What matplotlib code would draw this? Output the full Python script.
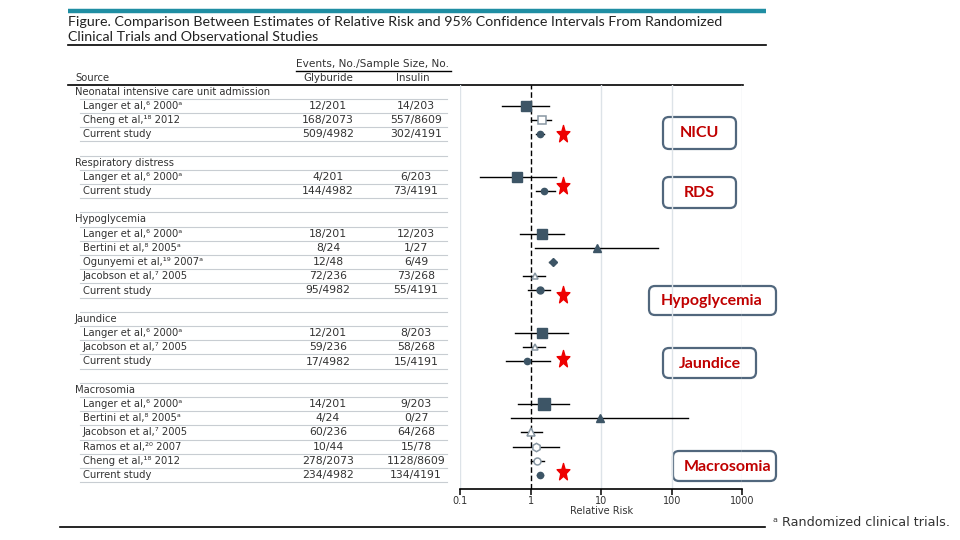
import matplotlib
matplotlib.use("Agg")
import matplotlib.pyplot as plt
from matplotlib.patches import FancyBboxPatch
from matplotlib.path import Path
import numpy as np

# ---------------- data ----------------
groups = ["Neonatal intensive care unit admission", "Respiratory distress",
          "Hypoglycemia", "Jaundice", "Macrosomia"]
group_sizes = [3, 2, 5, 3, 6]

study_labels = [
    "Langer et al,\u2076 2000\u1d43", "Cheng et al,\u00b9\u2078 2012", "Current study",
    "Langer et al,\u2076 2000\u1d43", "Current study",
    "Langer et al,\u2076 2000\u1d43", "Bertini et al,\u2078 2005\u1d43",
    "Ogunyemi et al,\u00b9\u2079 2007\u1d43", "Jacobson et al,\u2077 2005", "Current study",
    "Langer et al,\u2076 2000\u1d43", "Jacobson et al,\u2077 2005", "Current study",
    "Langer et al,\u2076 2000\u1d43", "Bertini et al,\u2078 2005\u1d43",
    "Jacobson et al,\u2077 2005", "Ramos et al,\u00b2\u2070 2007",
    "Cheng et al,\u00b9\u2078 2012", "Current study",
]
glyburide = ["12/201", "168/2073", "509/4982",
             "4/201", "144/4982",
             "18/201", "8/24", "12/48", "72/236", "95/4982",
             "12/201", "59/236", "17/4982",
             "14/201", "4/24", "60/236", "10/44", "278/2073", "234/4982"]
insulin = ["14/203", "557/8609", "302/4191",
           "6/203", "73/4191",
           "12/203", "1/27", "6/49", "73/268", "55/4191",
           "8/203", "58/268", "15/4191",
           "9/203", "0/27", "64/268", "15/78", "1128/8609", "134/4191"]
rr = [0.85, 1.43, 1.38,
      0.65, 1.57,
      1.46, 8.7, 2.05, 1.15, 1.35,
      1.46, 1.15, 0.90,
      1.54, 9.7, 1.03, 1.18, 1.24, 1.38]
ci_low = [0.40, 1.00, 1.18,
          0.19, 1.18,
          0.70, 1.15, 1.85, 0.78, 0.93,
          0.60, 0.78, 0.45,
          0.66, 0.53, 0.74, 0.57, 1.00, 1.25]
ci_high = [1.81, 1.97, 1.54,
           2.32, 2.20,
           3.00, 64.0, 2.30, 1.60, 1.90,
           3.36, 1.60, 1.90,
           3.50, 172.0, 1.43, 2.50, 1.57, 1.52]
x_ticks = [0.1, 1, 10, 100, 1000]
x_tick_labels = ["0.1", "1", "10", "100", "1000"]
outcome_tags = ["NICU", "RDS", "Hypoglycemia", "Jaundice", "Macrosomia"]

# ---------------- styles ----------------
DARK = "#3d5566"
OPEN_EDGE = "#8796a2"
# (marker, filled, size)
marker_styles = [
    ("s", True, 7), ("s", False, 5.5), ("o", True, 4.5),
    ("s", True, 7), ("o", True, 4.5),
    ("s", True, 7.5), ("^", True, 5.5), ("D", True, 4), ("^", False, 5), ("o", True, 5),
    ("s", True, 7.5), ("^", False, 5), ("o", True, 4.5),
    ("s", True, 8), ("^", True, 6), ("^", False, 6), ("h", False, 6), ("o", False, 5), ("o", True, 4.5),
]

# rows layout (row index in axis units)
rows, header_rows = [], []
r = 0
for g, n in zip(groups, group_sizes):
    header_rows.append(r)
    rows.extend(range(r + 1, r + 1 + n))
    r += n + 2

W, H = 960, 540
fig = plt.figure(figsize=(9.6, 5.4), dpi=100)

# overlay axes in pixel coordinates
ov = fig.add_axes([0, 0, 1, 1])
ov.set_xlim(0, W)
ov.set_ylim(H, 0)
ov.axis("off")

# forest axes
ax_left, ax_right, ax_top, ax_bot = 460, 742.3, 85, 489.3
ax = fig.add_axes([ax_left / W, 1 - ax_bot / H, (ax_right - ax_left) / W, (ax_bot - ax_top) / H])
ax.set_xscale("log")
ax.set_xlim(0.1, 1000)
row0_px, row_dy = 91.7, 14.2
ax.set_ylim((ax_bot - row0_px) / row_dy, (ax_top - row0_px) / row_dy)
ax.patch.set_alpha(0)
for s in ["top", "right", "left"]:
    ax.spines[s].set_visible(False)
ax.spines["bottom"].set_linewidth(1.2)
ax.set_yticks([])
ax.set_xticks(x_ticks)
ax.set_xticklabels(x_tick_labels, fontsize=7, color="#333333")
ax.xaxis.set_minor_locator(matplotlib.ticker.NullLocator())
ax.tick_params(axis="x", length=4, width=1.1, pad=1)
ax.set_xlabel("Relative Risk", fontsize=7, color="#333333", labelpad=0)
for t in x_ticks:
    if t != 1:
        ax.axvline(t, color="#dde3e8", lw=1, zorder=0)
ax.axvline(1, color="black", lw=1, ls=(0, (4, 2)), zorder=1)

for i, y in enumerate(rows):
    ax.plot([ci_low[i], ci_high[i]], [y, y], color="black", lw=1, zorder=2)
    m, filled, ms = marker_styles[i]
    if filled:
        ax.plot(rr[i], y, marker=m, ms=ms, color=DARK, mec=DARK, zorder=3, ls="none")
    else:
        ax.plot(rr[i], y, marker=m, ms=ms, mfc="white", mec=OPEN_EDGE, mew=1.1, zorder=3, ls="none")

# stars next to current-study rows
star = [(np.sin(2 * np.pi * k / 10) * (1 if k % 2 == 0 else 0.42),
         np.cos(2 * np.pi * k / 10) * (1 if k % 2 == 0 else 0.42) * 1.35) for k in range(10)]
star_path = Path(star + [star[0]], [Path.MOVETO] + [Path.LINETO] * 9 + [Path.CLOSEPOLY])
current_rows = [rows[i] for i, lab in enumerate(study_labels) if lab == "Current study"]
star_offsets = [0, -0.35, 0.3, -0.2, -0.25]
for y, dy in zip(current_rows, star_offsets):
    ax.plot(2.85, y + dy, marker=star_path, ms=13, color="#ee0000", mec="#ee0000", ls="none",
            zorder=4, clip_on=False)

# ---------------- table ----------------
def row_px(rw):
    return row0_px + row_dy * rw

FONT_T = "DejaVu Sans"
TXT = "#333333"
ov.plot([68, 766], [11, 11], color="#1f8ea3", lw=3.2, solid_capstyle="butt")
ov.text(68, 22, "Figure. Comparison Between Estimates of Relative Risk and 95% Confidence Intervals From Randomized",
        fontsize=10.3, family="Lato", color="#222222", va="center", ha="left")
ov.text(68, 37, "Clinical Trials and Observational Studies",
        fontsize=10.3, family="Lato", color="#222222", va="center", ha="left")
ov.plot([68, 766], [45, 45], color="black", lw=1.2)

ov.text(372, 64, "Events, No./Sample Size, No.", fontsize=7.6, family=FONT_T, color=TXT,
        ha="center", va="center")
ov.plot([296, 451], [70.7, 70.7], color="black", lw=1)
ov.text(75, 78, "Source", fontsize=7.2, family=FONT_T, color=TXT, ha="left", va="center")
ov.text(328, 78, "Glyburide", fontsize=7.4, family=FONT_T, color=TXT, ha="center", va="center")
ov.text(413, 78, "Insulin", fontsize=7.4, family=FONT_T, color=TXT, ha="center", va="center")
ov.plot([68, 743], [85, 85], color="black", lw=1.2)

SEP = "#c8cdd2"
for gi, (g, n) in enumerate(zip(groups, group_sizes)):
    hr = header_rows[gi]
    ov.text(75, row_px(hr), g, fontsize=7.2, family=FONT_T, color=TXT, ha="left", va="center")
    if gi > 0:
        ov.plot([80, 447], [row_px(hr - 0.5)] * 2, color=SEP, lw=0.8)
    for k in range(n + 1):
        ov.plot([80, 447], [row_px(hr + 0.5 + k)] * 2, color=SEP, lw=0.8)

for i, y in enumerate(rows):
    yp = row_px(y)
    ov.text(83, yp, study_labels[i], fontsize=7.2, family=FONT_T, color=TXT, ha="left", va="center")
    ov.text(328, yp, glyburide[i], fontsize=7.8, family=FONT_T, color=TXT, ha="center", va="center")
    ov.text(416, yp, insulin[i], fontsize=7.8, family=FONT_T, color=TXT, ha="center", va="center")

ov.plot([60, 765], [527, 527], color="black", lw=1.2)
ov.text(773, 522, "\u1d43 Randomized clinical trials.", fontsize=9.2, family=FONT_T, color=TXT,
        ha="left", va="center")

# ---------------- outcome tags ----------------
boxes = [(663, 117, 73, 32), (663, 177, 73, 31), (649, 286, 127, 29), (663, 348, 93, 30), (673, 451, 103, 30)]
text_pos = [(699.5, 133, "center"), (699.5, 193, "center"), (712, 300.5, "center"),
            (710, 364, "center"), (684, 467, "left")]
for (bx, by, bw, bh), (tx, ty, ha), tag in zip(boxes, text_pos, outcome_tags):
    ov.add_patch(FancyBboxPatch((bx, by), bw, bh, boxstyle="round,pad=0,rounding_size=6",
                                fc="white", ec="#51677d", lw=1.6, zorder=5))
    ov.text(tx, ty, tag, fontsize=11.5, family="Lato", weight="bold", color="#c00000",
            ha=ha, va="center", zorder=6)

fig.savefig("out.png", dpi=100)
